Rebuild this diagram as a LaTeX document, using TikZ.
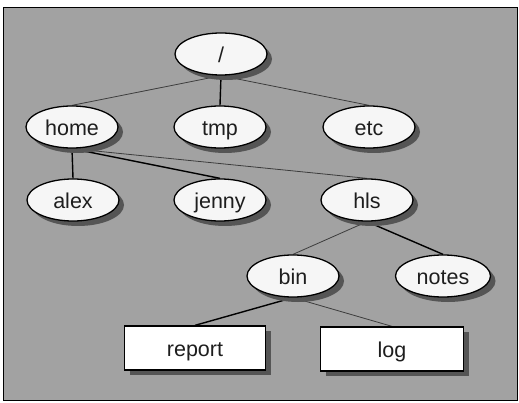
\documentclass[tikz,border=0pt]{standalone}
\usepackage{fontspec}
\setmainfont{Liberation Sans}
\usetikzlibrary{shapes.geometric,shadows}
\pgfdeclarelayer{bglayer}
\pgfdeclarelayer{edgelayer}
\pgfsetlayers{bglayer,edgelayer,main}
\definecolor{bgray}{RGB}{162,162,162}
\definecolor{shgray}{RGB}{85,85,85}
\definecolor{thingray}{RGB}{60,60,60}
\definecolor{nodefill}{RGB}{246,246,246}
\definecolor{textgray}{RGB}{30,30,30}
\begin{document}
\begin{tikzpicture}[x=1pt,y=-1pt,
  every node/.style={font=\fontsize{21.5}{25}\selectfont,text=textgray,
    text height=17pt,text depth=0pt},
  dir/.style={ellipse,draw=black,line width=1.3pt,fill=nodefill,
    minimum width=92pt,minimum height=42pt,inner sep=0pt,
    drop shadow={shadow xshift=5pt,shadow yshift=-5pt,fill=shgray,opacity=1}},
  filebox/.style={rectangle,draw=black,line width=1.3pt,fill=white,
    minimum width=141pt,minimum height=44pt,inner sep=0pt,
    drop shadow={shadow xshift=5pt,shadow yshift=-5pt,fill=shgray,opacity=1}},
  thickedge/.style={draw=black,line width=1.4pt},
  thinedge/.style={draw=thingray,line width=0.8pt}]
\useasboundingbox (0,0) rectangle (519,403);
\begin{pgfonlayer}{bglayer}
  \fill[white] (0,0) rectangle (519,403);
  \filldraw[fill=bgray,draw=black,line width=1pt] (3,8) rectangle (517,400);
\end{pgfonlayer}
\node[dir] (root) at (221,54) {/};
\node[dir] (home) at (72,127) {home};
\node[dir] (tmp) at (220,127) {tmp};
\node[dir] (etc) at (369,127) {etc};
\node[dir] (alex) at (73,200) {alex};
\node[dir] (jenny) at (220,200) {jenny};
\node[dir] (hls) at (367,200) {hls};
\node[dir] (bin) at (293,276) {bin};
\node[dir,minimum width=95pt] (notes) at (443,276) {notes};
\node[filebox] (report) at (195,348) {report};
\node[filebox,minimum width=143pt] (log) at (392,349) {log};
\begin{pgfonlayer}{edgelayer}
  \draw[thinedge] (root.south) -- (home.north);
  \draw[thickedge] (root.south) -- (tmp.north);
  \draw[thinedge] (root.south) -- (etc.north);
  \draw[thickedge] (home.south) -- (alex.north);
  \draw[thickedge] (home.south) -- (jenny.north);
  \draw[thinedge] (home.south) -- (hls.north);
  \draw[thinedge] (hls.south) -- (bin.north);
  \draw[thickedge] (hls.south) -- (notes.north);
  \draw[thickedge] (bin.south) -- (report.north);
  \draw[thinedge] (bin.south) -- (log.north);
\end{pgfonlayer}
\end{tikzpicture}
\end{document}
